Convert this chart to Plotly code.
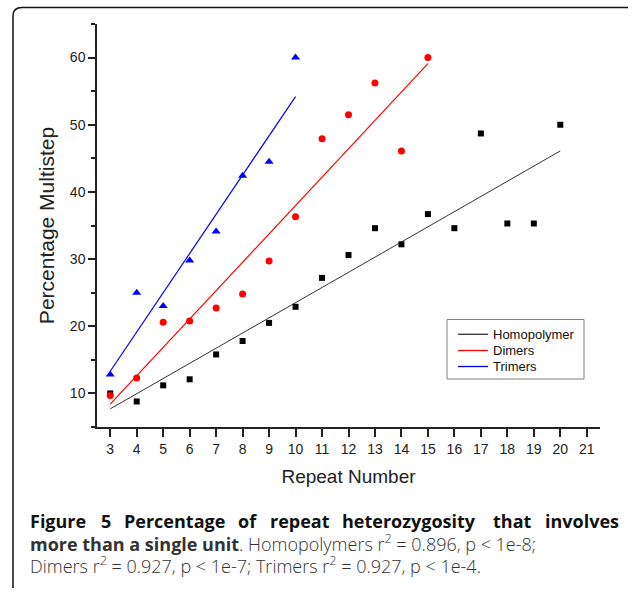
import plotly.graph_objects as go

# ---------------- data ----------------
x_homo = [3, 4, 5, 6, 7, 8, 9, 10, 11, 12, 13, 14, 15, 16, 17, 18, 19, 20]
y_homo = [10.0, 8.8, 11.2, 12.1, 15.8, 17.8, 20.5, 22.9, 27.2, 30.6, 34.6, 32.2,
          36.7, 34.6, 48.7, 35.3, 35.3, 50.0]
x_dim = [3, 4, 5, 6, 7, 8, 9, 10, 11, 12, 13, 14, 15]
y_dim = [9.7, 12.3, 20.6, 20.8, 22.7, 24.8, 29.7, 36.3, 47.9, 51.5, 56.2, 46.1, 60.0]
x_tri = [3, 4, 5, 6, 7, 8, 9, 10]
y_tri = [12.8, 25.0, 23.0, 29.8, 34.1, 42.4, 44.5, 60.0]

# regression lines (end points)
fit_x_homo = [3, 20]
fit_y_homo = [7.7, 46.1]
fit_x_dim = [3, 15]
fit_y_dim = [8.4, 59.1]
fit_x_tri = [3, 10]
fit_y_tri = [13.3, 54.2]

x_ticks = list(range(3, 22))
y_ticks = [10, 20, 30, 40, 50, 60]

series_names = ["Homopolymer", "Dimers", "Trimers"]
series_colors = ["#333333", "#ff0000", "#0000ff"]

# ---------------- layout geometry ----------------
W, H = 632, 593
ML, MR, MT, MB = 97, 32, 24, 166
PW, PH = W - ML - MR, H - MT - MB


def px(xp):
    return (xp - ML) / PW


def py(yp):
    return 1 - (yp - MT) / PH


AXFONT = "Liberation Sans, Arial, sans-serif"
CAPFONT = "Open Sans, Noto Sans, sans-serif"

fig = go.Figure()

# fit lines
fig.add_trace(go.Scatter(x=fit_x_homo, y=fit_y_homo, mode="lines", name=series_names[0],
                         line=dict(color=series_colors[0], width=1)))
fig.add_trace(go.Scatter(x=fit_x_dim, y=fit_y_dim, mode="lines", name=series_names[1],
                         line=dict(color=series_colors[1], width=1.2)))
fig.add_trace(go.Scatter(x=fit_x_tri, y=fit_y_tri, mode="lines", name=series_names[2],
                         line=dict(color=series_colors[2], width=1.2)))

# markers
fig.add_trace(go.Scatter(x=x_homo, y=y_homo, mode="markers", name=series_names[0],
                         marker=dict(symbol="square", size=6, color="#000000")))
fig.add_trace(go.Scatter(x=x_dim, y=y_dim, mode="markers", name=series_names[1],
                         marker=dict(symbol="circle", size=7, color="#ff0000")))
fig.add_trace(go.Scatter(x=x_tri, y=y_tri, mode="markers", name=series_names[2],
                         marker=dict(symbol="triangle-up", size=8, color="#0000ff")))

fig.update_xaxes(range=[2.5, 21.5], tickmode="array", tickvals=x_ticks,
                 ticktext=[str(v) for v in x_ticks],
                 ticks="outside", ticklen=8, tickwidth=1.5, tickcolor="#222",
                 showline=True, linewidth=1.5, linecolor="#222", mirror=False,
                 showgrid=False, zeroline=False,
                 tickfont=dict(family=AXFONT, size=14, color="#222"),
                 title=dict(text="Repeat Number", font=dict(family=AXFONT, size=19, color="#222"),
                            standoff=14))
fig.update_yaxes(range=[5, 65], tickmode="array", tickvals=y_ticks,
                 ticktext=[str(v) for v in y_ticks],
                 ticks="outside", ticklen=7, tickwidth=1.5, tickcolor="#222",
                 minor=dict(dtick=5, tick0=5, ticks="outside", ticklen=4, tickwidth=1.5,
                            tickcolor="#222", showgrid=False),
                 showline=True, linewidth=1.5, linecolor="#222", mirror=False,
                 showgrid=False, zeroline=False,
                 tickfont=dict(family=AXFONT, size=14, color="#222"),
                 title=dict(text="Percentage Multistep", font=dict(family=AXFONT, size=21, color="#222"),
                            standoff=10))

shapes = []
# frame (top and left edges with rounded corner)
shapes.append(dict(type="path", xref="paper", yref="paper",
                   path=(f"M {px(13)},{py(588)} L {px(13)},{py(16)} "
                         f"Q {px(13)},{py(7.5)} {px(22)},{py(7.5)} L {px(628)},{py(7.5)}"),
                   line=dict(color="#111", width=1.5), layer="above"))

# legend box drawn by hand (compact rows as in the reference)
shapes.append(dict(type="rect", xref="paper", yref="paper",
                   x0=px(447), x1=px(584), y0=py(379), y1=py(319.5),
                   line=dict(color="#808080", width=1), fillcolor="white", layer="above"))
leg_rows = [334.3, 350.5, 366.5]
annotations = []
for name, col, ry in zip(series_names, series_colors, leg_rows):
    shapes.append(dict(type="line", xref="paper", yref="paper",
                       x0=px(458), x1=px(488), y0=py(ry), y1=py(ry),
                       line=dict(color=col, width=1.3), layer="above"))
    annotations.append(dict(x=px(491), y=py(ry), xref="paper", yref="paper", text=name,
                            showarrow=False, xanchor="left", yanchor="middle",
                            font=dict(family=AXFONT, size=13, color="#111")))

# caption line 1 (justified: words placed individually)
CAP_SIZE = 18
words1 = ["Figure", "5", "Percentage", "of", "repeat", "heterozygosity", "that", "involves"]
starts1 = [30, 101, 124, 238, 270, 342, 493, 546]
for i, (w, s) in enumerate(zip(words1, starts1)):
    last = i == len(words1) - 1
    annotations.append(dict(x=px(621 if last else s - 2), y=py(521), xref="paper", yref="paper",
                            text=f"<b>{w}</b>", showarrow=False,
                            xanchor="right" if last else "left", yanchor="middle",
                            font=dict(family=CAPFONT, size=CAP_SIZE, color="#111")))
annotations.append(dict(x=px(28), y=py(543), xref="paper", yref="paper",
                        text=("<b>more than a single unit</b>. Homopolymers r<sup>2</sup> = 0.896, "
                              "p &lt; 1e-8;"),
                        showarrow=False, xanchor="left", yanchor="middle",
                        font=dict(family=CAPFONT, size=CAP_SIZE, color="#333", weight=300)))
annotations.append(dict(x=px(28), y=py(564.5), xref="paper", yref="paper",
                        text=("Dimers r<sup>2</sup> = 0.927, p &lt; 1e-7; Trimers r<sup>2</sup> = 0.927, "
                              "p &lt; 1e-4."),
                        showarrow=False, xanchor="left", yanchor="middle",
                        font=dict(family=CAPFONT, size=CAP_SIZE, color="#333", weight=300)))

fig.update_layout(
    width=W, height=H, autosize=False,
    margin=dict(l=ML, r=MR, t=MT, b=MB, pad=0),
    paper_bgcolor="white", plot_bgcolor="white",
    showlegend=False,
    shapes=shapes,
    annotations=annotations,
)

fig.write_html("out.html")
